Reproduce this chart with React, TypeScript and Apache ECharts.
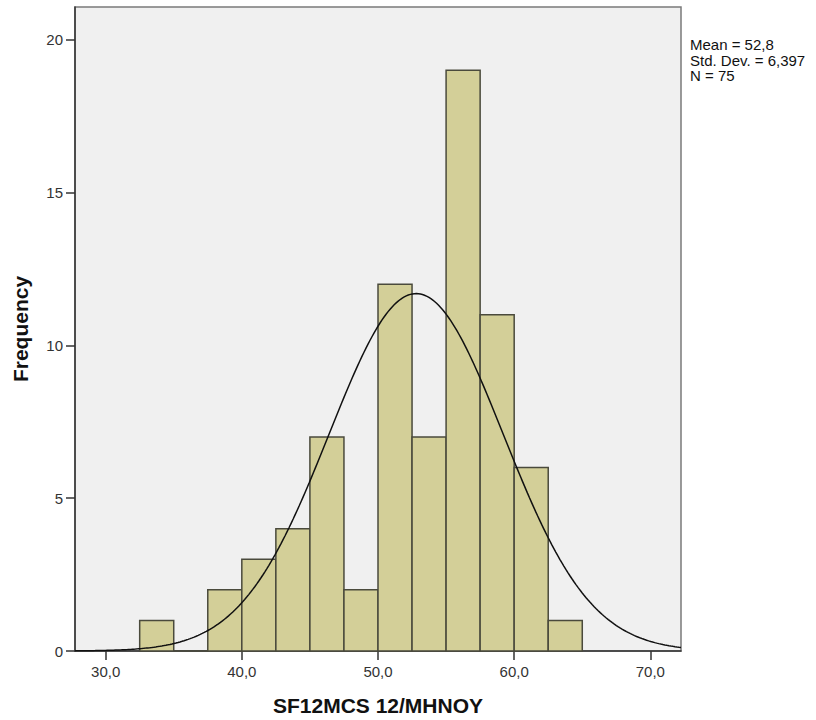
import React, { useEffect, useRef } from "react";
import * as echarts from "echarts";

const binStarts = [32.5, 35, 37.5, 40, 42.5, 45, 47.5, 50, 52.5, 55, 57.5, 60, 62.5];
const binCounts = [1, 0, 2, 3, 4, 7, 2, 12, 7, 19, 11, 6, 1];
const binWidth = 2.5;
const xTicks = [30, 40, 50, 60, 70];
const yTicks = [0, 5, 10, 15, 20];
const statMean = 52.8;
const statSd = 6.397;
const statN = 75;
const statLines = ["Mean = 52,8", "Std. Dev. = 6,397", "N = 75"];

const X_MIN = 27.75;
const X_MAX = 72.25;
const Y_MAX = 21.07;

function normalCurve(): number[][] {
  const pts: number[][] = [];
  const steps = 300;
  for (let i = 0; i <= steps; i++) {
    const x = X_MIN + ((X_MAX - X_MIN) * i) / steps;
    const z = (x - statMean) / statSd;
    const y = (statN * binWidth) / (statSd * Math.sqrt(2 * Math.PI)) * Math.exp(-0.5 * z * z);
    pts.push([x, y]);
  }
  return pts;
}

export default function App() {
  const ref = useRef<HTMLDivElement>(null);
  useEffect(() => {
    document.body.style.margin = "0";
    if (!ref.current) return;
    const chart = echarts.init(ref.current, null, { renderer: "svg" });
    const font = "'Liberation Sans', Arial, sans-serif";
    const barData = binStarts.map((s, i) => [s, s + binWidth, binCounts[i]]);
    chart.setOption({
      animation: false,
      backgroundColor: "#ffffff",
      textStyle: { fontFamily: font },
      grid: {
        left: 75,
        top: 7,
        right: 135,
        bottom: 69,
        containLabel: false,
        outerBoundsMode: "none",
        show: true,
        backgroundColor: "#f0f0f0",
        borderColor: "#7a7a7a",
        borderWidth: 1.5,
      },
      xAxis: {
        type: "value",
        min: X_MIN,
        max: X_MAX,
        name: "SF12MCS 12/MHNOY",
        nameLocation: "middle",
        nameGap: 44,
        nameTextStyle: { fontFamily: font, fontSize: 21, fontWeight: "bold", color: "#111" },
        axisLine: { show: true, onZero: false, lineStyle: { color: "#333", width: 1.5 } },
        axisTick: { show: true, inside: false, length: 9, customValues: xTicks, lineStyle: { color: "#333", width: 1.5 } },
        axisLabel: {
          customValues: xTicks,
          margin: 13,
          fontSize: 15,
          color: "#333",
          fontFamily: font,
          formatter: (v: number) => v.toFixed(1).replace(".", ","),
        },
        splitLine: { show: false },
      },
      yAxis: {
        type: "value",
        min: 0,
        max: Y_MAX,
        name: "Frequency",
        nameLocation: "middle",
        nameGap: 44,
        nameRotate: 90,
        nameTextStyle: { fontFamily: font, fontSize: 21, fontWeight: "bold", color: "#111" },
        axisLine: { show: true, onZero: false, lineStyle: { color: "#333", width: 1.5 } },
        axisTick: { show: true, inside: false, length: 9, customValues: yTicks, lineStyle: { color: "#333", width: 1.5 } },
        axisLabel: {
          customValues: yTicks,
          margin: 12,
          fontSize: 15,
          color: "#333",
          fontFamily: font,
        },
        splitLine: { show: false },
      },
      series: [
        {
          type: "custom",
          data: barData,
          renderItem: (params: any, api: any) => {
            const p0 = api.coord([api.value(0), api.value(2)]);
            const p1 = api.coord([api.value(1), 0]);
            return {
              type: "rect",
              shape: { x: p0[0], y: p0[1], width: p1[0] - p0[0], height: p1[1] - p0[1] },
              style: { fill: "#d3cf98", stroke: "#4a4a3c", lineWidth: 1.5 },
            };
          },
          z: 2,
        },
        {
          type: "line",
          data: normalCurve(),
          showSymbol: false,
          smooth: false,
          lineStyle: { color: "#111", width: 1.5 },
          z: 3,
        },
      ],
      graphic: [
        {
          type: "text",
          left: 690,
          top: 37,
          style: {
            text: statLines.join("\n"),
            font: `15px ${font}`,
            lineHeight: 15.5,
            fill: "#111",
          },
        },
      ],
    });
    return () => chart.dispose();
  }, []);
  return <div ref={ref} style={{ width: 816, height: 720 }} />;
}
